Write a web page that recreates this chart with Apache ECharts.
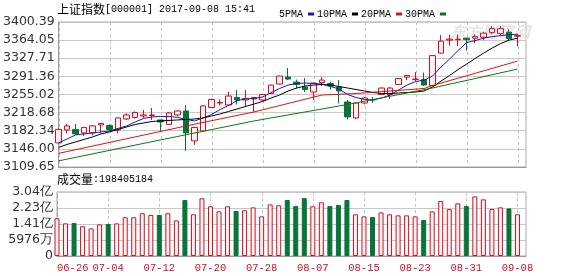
<!DOCTYPE html>
<html><head><meta charset="utf-8">
<script src="https://cdn.jsdelivr.net/npm/echarts@6/dist/echarts.min.js"></script>
<style>html,body{margin:0;padding:0;background:#fff}#c{width:578px;height:276px}</style>
</head><body><div id="c"></div>
<script>
// ---- data ----
const dates = ['06-26','06-27','06-28','06-29','06-30','07-03','07-04','07-05','07-06','07-07','07-10','07-11','07-12','07-13','07-14','07-17','07-18','07-19','07-20','07-21','07-24','07-25','07-26','07-27','07-28','07-31','08-01','08-02','08-03','08-04','08-07','08-08','08-09','08-10','08-11','08-14','08-15','08-16','08-17','08-18','08-21','08-22','08-23','08-24','08-25','08-28','08-29','08-30','08-31','09-01','09-04','09-05','09-06','09-07','09-08',''];
const opens  = [3158,3184,3185,3178,3178,3194,3193,3184,3206,3209,3212,3213,3204,3195,3214,3222,3162,3182,3229,3238,3234,3249,3244,3246,3244,3257,3276,3290,3280,3270,3260,3279,3277,3270,3240,3208,3238,3245,3255,3255,3275,3290,3285,3285,3273,3338,3364,3365,3368,3368,3370,3379,3377,3380,3372];
const closes = [3185,3192,3176,3189,3192,3197,3185,3208,3214,3219,3214,3214,3200,3218,3222,3178,3189,3232,3245,3239,3252,3244,3247,3249,3255,3274,3292,3286,3275,3265,3278,3284,3272,3262,3210,3238,3248,3244,3268,3268,3287,3293,3286,3274,3333,3362,3366,3366,3365,3371,3378,3387,3387,3367,3373];
const highs  = [3187,3196,3196,3190,3193,3198,3195,3209,3217,3221,3224,3228,3204,3220,3224,3234,3190,3233,3247,3245,3260,3264,3264,3250,3256,3275,3293,3308,3285,3288,3279,3290,3281,3284,3244,3239,3250,3250,3269,3270,3288,3294,3300,3299,3334,3374,3375,3375,3369,3376,3381,3392,3392,3386,3376];
const lows   = [3157,3177,3174,3172,3173,3177,3181,3177,3204,3207,3208,3204,3180,3194,3211,3142,3154,3181,3228,3233,3233,3235,3230,3220,3242,3256,3275,3284,3267,3260,3244,3272,3265,3237,3205,3206,3235,3238,3254,3246,3274,3284,3282,3272,3271,3337,3353,3352,3343,3358,3364,3376,3373,3364,3352];
// volume in 亿 (1e8)
const volumes = [1.79,1.55,1.57,1.41,1.31,1.50,1.52,1.55,1.84,1.84,2.03,1.95,1.95,2.03,1.69,2.66,1.98,2.74,2.36,2.12,2.36,2.14,2.17,2.31,1.88,2.45,2.41,2.66,2.37,2.75,2.36,2.55,2.37,2.42,2.66,1.98,1.88,1.85,2.07,1.98,1.93,1.93,1.88,1.71,2.12,2.61,2.23,2.50,2.37,2.83,2.69,2.23,2.31,2.26,1.98];
const ma5  = [3158,3166,3174,3176,3178,3180,3182,3187,3192,3200,3207,3210,3211,3211,3209,3205,3202,3208,3215,3225,3233,3243,3246,3247,3250,3259,3267,3274,3277,3278,3277,3276,3271,3266,3255,3249,3245,3244,3248,3254,3264,3274,3281,3284,3292,3310,3326,3343,3359,3363,3368,3371,3373,3375,3376];
const ma10 = [3149,3155,3160,3165,3170,3176,3180,3185,3190,3195,3198,3201,3202,3203,3204,3205,3206,3208,3212,3216,3221,3226,3231,3236,3241,3248,3254,3262,3268,3272,3274,3275,3274,3271,3268,3265,3262,3259,3257,3257,3258,3259,3260,3262,3270,3282,3293,3305,3316,3327,3338,3348,3357,3364,3368];
const ma20 = [3137,null,null,null,null,null,null,null,null,null,null,null,null,null,null,3192,null,null,null,null,null,null,null,3220,null,null,null,null,null,null,null,3254,null,null,null,3257,null,null,null,null,null,null,null,3267,3273,null,null,null,null,null,null,null,null,null,3322];
const ma30 = [3122,null,null,null,null,null,null,null,null,null,null,null,3164,null,null,null,null,null,null,null,null,null,null,3202,null,null,null,null,null,null,null,null,null,null,3235,null,null,null,null,null,null,null,null,null,3268,null,null,null,null,null,null,null,null,null,3306];
const priceTickLabels = ['3109.65','3146.00','3182.34','3218.68','3255.02','3291.36','3327.71','3364.05','3400.39'];
const volTickLabels = ['0','5976万','1.41亿','2.23亿','3.04亿'];
const dateTickLabels = ['06-26','07-04','07-12','07-20','07-28','08-07','08-15','08-23','08-31','09-08'];
const volMax = 3.04;
const titleCode = '上证指数';
const titleRest = '[000001] 2017-09-08 15:41';
const volTitle = '成交量';
const volValueText = ':198405184';

// ---- chart ----
const RED = '#cc1122', GREEN = '#0a7438', UPFILL = '#fff2f2';
const priceTickValues = priceTickLabels.map(parseFloat);
const volTickValues = volTickLabels.map((_, i) => volMax * i / (volTickLabels.length - 1));
const candleData = opens.map((o, i) => [o, closes[i], lows[i], highs[i]]);
const volData = volumes.map((v, i) => {
  const up = closes[i] >= opens[i];
  return { value: v, itemStyle: { color: up ? UPFILL : GREEN, borderColor: up ? RED : GREEN, borderWidth: 1 } };
});
const MONO = 'Liberation Mono', CJK = 'Noto Sans CJK SC';

// dashed vertical grid lines at the labelled dates, x placed by the category scale
function vGridSeries(xi, yi, yBase) {
  return {
    type: 'custom', name: 'vgrid' + xi, xAxisIndex: xi, yAxisIndex: yi, silent: true, z: 1, clip: false,
    data: dateTickLabels.map(d => [dates.indexOf(d), yBase]),
    encode: { x: 0, y: 1 },
    renderItem: (params, api) => {
      const cs = params.coordSys;
      const p = api.coord([api.value(0), api.value(1)]);
      const x = Math.round(p[0]) + 0.5;
      return {
        type: 'line', silent: true,
        shape: { x1: x, y1: cs.y, x2: x, y2: cs.y + cs.height },
        style: { stroke: '#c0c0c0', lineWidth: 1, lineDash: [3, 3], fill: null }
      };
    }
  };
}

const chart = echarts.init(document.getElementById('c'), null, { renderer: 'canvas' });
function xAxisFor(gi, showLabel) {
  return {
    type: 'category', data: dates, boundaryGap: false, gridIndex: gi,
    axisLine: { show: true, lineStyle: { color: '#999' } },
    axisTick: { show: false },
    axisLabel: showLabel
      ? { show: true, interval: 5, color: RED, fontFamily: MONO, fontSize: 10.5, margin: 7, alignMinLabel: 'left' }
      : { show: false, interval: 5 },
    splitLine: { show: false }
  };
}
chart.setOption({
  animation: false,
  backgroundColor: '#fff',
  grid: [
    { left: 57, right: 52, top: 22, height: 145, show: true, borderColor: '#a8a8a8', borderWidth: 1 },
    { left: 57, right: 52, top: 192, height: 64, show: true, borderColor: '#a8a8a8', borderWidth: 1 }
  ],
  legend: {
    data: ['5PMA', '10PMA', '20PMA', '30PMA'], left: 274, top: 4, align: 'right',
    icon: 'rect', itemWidth: 6, itemHeight: 3, itemGap: 3, selectedMode: false,
    textStyle: { fontFamily: MONO, fontSize: 10, color: '#000' }
  },
  xAxis: [xAxisFor(0, false), xAxisFor(1, true)],
  yAxis: [
    {
      gridIndex: 0, type: 'value', min: priceTickValues[0], max: priceTickValues[priceTickValues.length - 1],
      axisLine: { show: true, lineStyle: { color: '#999' } },
      axisTick: { show: false, customValues: priceTickValues },
      axisLabel: { customValues: priceTickValues, margin: 4, color: '#333', fontFamily: 'DejaVu Sans', fontSize: 12.5,
        formatter: v => { let b = 0; priceTickValues.forEach((t, i) => { if (Math.abs(t - v) < Math.abs(priceTickValues[b] - v)) b = i; }); return priceTickLabels[b]; } },
      splitLine: { show: true, lineStyle: { color: '#c8c8c8' } }
    },
    {
      gridIndex: 1, type: 'value', min: 0, max: volMax,
      axisLine: { show: true, lineStyle: { color: '#999' } },
      axisTick: { show: false, customValues: volTickValues },
      axisLabel: { customValues: volTickValues, margin: 4, color: '#333', fontFamily: 'DejaVu Sans', fontSize: 12.5,
        formatter: v => volTickLabels[Math.round(v / (volMax / (volTickLabels.length - 1)))] },
      splitLine: { show: true, lineStyle: { color: '#c8c8c8' } }
    }
  ],
  graphic: [
    { type: 'text', left: 450, top: 24, z: 0, style: { text: '东方财富网', fill: '#e6e6e6', font: 'italic bold 16px "Noto Sans CJK SC"' } },
    { type: 'text', left: 57, top: 3, style: { text: '{c|' + titleCode + '}{a|' + titleRest + '}', rich: { c: { fontFamily: CJK, fontSize: 12, fill: '#000' }, a: { fontFamily: MONO, fontSize: 10, fill: '#000' } } } },
    { type: 'text', left: 57, top: 173, style: { text: '{c|' + volTitle + '}{a|' + volValueText + '}', rich: { c: { fontFamily: CJK, fontSize: 12, fill: '#000' }, a: { fontFamily: MONO, fontSize: 10, fill: '#000' } } } }
  ],
  series: [
    vGridSeries(0, 0, priceTickValues[0]),
    vGridSeries(1, 1, 0),
    {
      type: 'candlestick', name: 'K', xAxisIndex: 0, yAxisIndex: 0, data: candleData, barWidth: 6, clip: false,
      itemStyle: { color: UPFILL, color0: GREEN, borderColor: RED, borderColor0: GREEN, borderWidth: 1 }
    },
    { type: 'line', name: '5PMA', data: ma5, color: '#1a1ab8', symbol: 'none', lineStyle: { width: 1 } },
    { type: 'line', name: '10PMA', data: ma10, color: '#000000', symbol: 'none', lineStyle: { width: 1 } },
    { type: 'line', name: '20PMA', data: ma20, color: '#dd1111', symbol: 'none', connectNulls: true, lineStyle: { width: 1 } },
    { type: 'line', name: '30PMA', data: ma30, color: '#0b7a0b', symbol: 'none', connectNulls: true, lineStyle: { width: 1 } },
    { type: 'bar', name: 'VOL', xAxisIndex: 1, yAxisIndex: 1, data: volData, barWidth: 5 }
  ]
});
</script>
</body></html>
